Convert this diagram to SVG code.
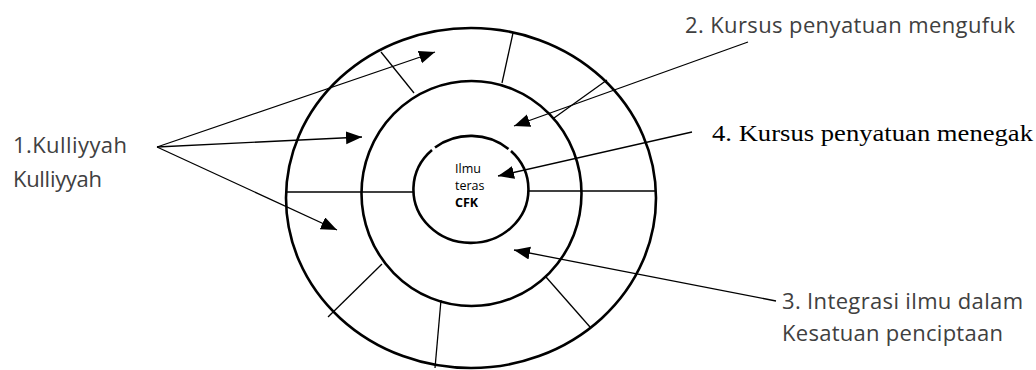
<svg xmlns="http://www.w3.org/2000/svg" width="1036" height="370" viewBox="0 0 1036 370">
<style>
.ring{fill:none;stroke:#000;stroke-width:2.6}
.div{stroke:#000;stroke-width:1.3;fill:none}
.conn{stroke:#000;stroke-width:1.3;fill:none}
.lbl{font-family:"Open Sans","Liberation Sans",sans-serif;font-size:22px;fill:#404040}
.ser{font-family:"Liberation Serif","Times New Roman",serif;font-size:24px;fill:#000}
.core{font-family:"Open Sans","Liberation Sans",sans-serif;font-size:12.5px;fill:#000}
</style>
<defs>
<marker id="ah" markerUnits="userSpaceOnUse" markerWidth="18" markerHeight="14" refX="16" refY="6.5" orient="auto">
<path d="M0,0 L16,6.5 L0,13 z" fill="#000"/>
</marker>
</defs>
<rect width="1036" height="370" fill="#fff"/>
<g id="outer-ring">
<ellipse class="ring" cx="471" cy="198" rx="185" ry="170"/>
<line class="div" x1="381" y1="52" x2="414" y2="93"/>
<line class="div" x1="513" y1="33" x2="502" y2="83"/>
<line class="div" x1="607" y1="80" x2="554" y2="118"/>
<line class="div" x1="382" y1="264" x2="328" y2="317"/>
<line class="div" x1="441" y1="300" x2="435" y2="368"/>
<line class="div" x1="546" y1="277" x2="590" y2="327"/>
<line class="div" x1="286" y1="192" x2="414" y2="192"/>
<line class="div" x1="529" y1="191" x2="656" y2="191"/>
</g>
<g id="middle-ring">
<ellipse class="ring" cx="471.5" cy="193.5" rx="110" ry="112.5"/>
</g>
<g id="core">
<path class="ring" d="M435,147.5 A57.5,53.5 0 0 1 508.5,149"/>
<path class="ring" d="M511,151 A57.5,53.5 0 1 1 432,150"/>
<text class="core" x="455" y="173">Ilmu</text>
<text class="core" x="455" y="190">teras</text>
<text class="core" x="455" y="207" font-weight="bold">CFK</text>
</g>
<g id="label-1">
<text class="lbl" x="13" y="153" textLength="114">1.Kulliyyah</text>
<text class="lbl" x="13" y="187" textLength="89">Kulliyyah</text>
</g>
<g id="label-2">
<text class="lbl" x="685" y="33" textLength="330">2. Kursus penyatuan mengufuk</text>
</g>
<g id="label-4">
<text class="ser" x="712" y="141" textLength="321" lengthAdjust="spacingAndGlyphs">4. Kursus penyatuan menegak</text>
</g>
<g id="label-3">
<text class="lbl" x="782" y="309" textLength="241">3. Integrasi ilmu dalam</text>
<text class="lbl" x="782" y="341" textLength="221">Kesatuan penciptaan</text>
</g>
<g id="connectors">
<line class="conn" x1="157" y1="147" x2="435" y2="52" marker-end="url(#ah)"/>
<line class="conn" x1="157" y1="147" x2="362" y2="137" marker-end="url(#ah)"/>
<line class="conn" x1="157" y1="147" x2="337" y2="230" marker-end="url(#ah)"/>
<line class="conn" x1="748" y1="42" x2="514" y2="126" marker-end="url(#ah)"/>
<line class="conn" x1="692" y1="132" x2="498" y2="176" marker-end="url(#ah)"/>
<line class="conn" x1="776" y1="301" x2="514" y2="250" marker-end="url(#ah)"/>
</g>
</svg>
